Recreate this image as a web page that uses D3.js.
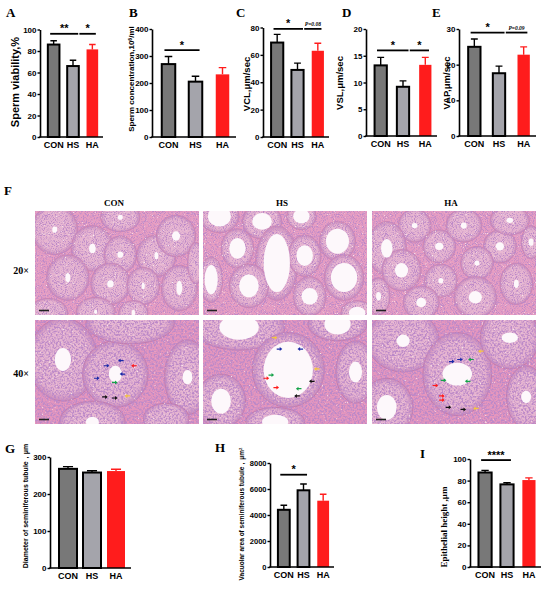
<!DOCTYPE html>
<html>
<head>
<meta charset="utf-8">
<script src="https://cdn.jsdelivr.net/npm/d3@7"></script>
<style>
body { margin: 0; background: #fff; }
svg { display: block; }
text { font-family: "Liberation Sans", Arial, sans-serif; font-weight: bold; }
.serif { font-family: "Liberation Serif", "Times New Roman", serif; }
</style>
</head>
<body>
<svg id="fig" width="550" height="590"></svg>
<script>
// groups and bar values (mean, sem)
const groups = ['CON', 'HS', 'HA'];
const viability = [86, 66, 81.5];
const viabilityErr = [3.5, 5.4, 4.5];
const concentration = [270, 205, 232];
const concentrationErr = [28, 20, 25];
const vcl = [69, 49, 63];
const vclErr = [6, 5, 5.5];
const vsl = [13.2, 9.2, 13.3];
const vslErr = [1.5, 1.1, 1.4];
const vap = [25, 17.6, 22.8];
const vapErr = [2.2, 2, 2.2];
const diameter = [268, 258, 262];
const diameterErr = [6, 5, 5];
const vacuolar = [4400, 5900, 5100];
const vacuolarErr = [350, 480, 500];
const epithelial = [87.5, 76.5, 80.5];
const epithelialErr = [2, 1.5, 2];

// tick values
const viabilityTicks = [0, 20, 40, 60, 80, 100];
const concentrationTicks = [0, 100, 200, 300, 400];
const vclTicks = [0, 20, 40, 60, 80];
const vslTicks = [0, 5, 10, 15, 20];
const vapTicks = [0, 10, 20, 30];
const diameterTicks = [0, 100, 200, 300];
const vacuolarTicks = [0, 2000, 4000, 6000, 8000];
const epithelialTicks = [0, 20, 40, 60, 80, 100];

// significance brackets: [from, to, label, level]
const viabilitySig = [[0, 1, '**', 96], [1, 2, '*', 96]];
const concentrationSig = [[0, 1, '*', 322]];
const vclSig = [[0, 1, '*', 79], [1, 2, 'P=0.08', 79]];
const vslSig = [[0, 1, '*', 16], [1, 2, '*', 16]];
const vapSig = [[0, 1, '*', 29], [1, 2, 'P=0.09', 29]];
const vacuolarSig = [[0, 1, '*', 7100]];
const epithelialSig = [[0, 1, '****', 99]];

// histology sketch: tubules [cx, cy, rx, ry, lumen rx, lumen ry] relative to the photo
const conTubules20 = [
	[0.12, 0.18, 0.14, 0.24, 0.015, 0.03], [0.35, 0.36, 0.13, 0.22, 0.02, 0.045],
	[0.52, 0.42, 0.1, 0.18, 0.018, 0.03], [0.52, 0.06, 0.12, 0.14, 0.015, 0.025],
	[0.74, 0.43, 0.12, 0.2, 0.012, 0.035], [0.86, 0.24, 0.12, 0.2, 0.025, 0.045],
	[0.2, 0.64, 0.13, 0.22, 0.015, 0.045], [0.46, 0.7, 0.12, 0.2, 0.02, 0.035],
	[0.66, 0.72, 0.1, 0.18, 0.01, 0.03], [0.88, 0.74, 0.11, 0.22, 0.018, 0.07],
	[0.37, 0.97, 0.12, 0.14, 0.01, 0.02], [0.08, 0.98, 0.12, 0.14, 0, 0],
	[0.6, 0.98, 0.09, 0.12, 0.01, 0.03], [0.98, 0.5, 0.05, 0.2, 0, 0]
];
const hsTubules20 = [
	[0.1, 0.05, 0.12, 0.16, 0.07, 0.1], [0.36, 0.1, 0.12, 0.17, 0.06, 0.08],
	[0.6, 0.05, 0.09, 0.13, 0.05, 0.07], [0.21, 0.36, 0.1, 0.19, 0.05, 0.1],
	[0.45, 0.5, 0.13, 0.36, 0.08, 0.28], [0.28, 0.72, 0.12, 0.21, 0.06, 0.11],
	[0.62, 0.43, 0.1, 0.2, 0.05, 0.1], [0.82, 0.29, 0.11, 0.19, 0.07, 0.12],
	[0.86, 0.64, 0.12, 0.22, 0.08, 0.14], [0.65, 0.82, 0.1, 0.19, 0.05, 0.08],
	[0.05, 0.66, 0.07, 0.22, 0.04, 0.14], [0.94, 0.98, 0.1, 0.12, 0.05, 0.06]
];
const haTubules20 = [
	[0.26, 0.14, 0.1, 0.16, 0.018, 0.025], [0.09, 0.36, 0.12, 0.26, 0.035, 0.09],
	[0.18, 0.57, 0.12, 0.2, 0.04, 0.07], [0.41, 0.34, 0.1, 0.16, 0.025, 0.035],
	[0.56, 0.14, 0.11, 0.16, 0.018, 0.03], [0.78, 0.34, 0.1, 0.16, 0.025, 0.04],
	[0.64, 0.5, 0.1, 0.16, 0.015, 0.025], [0.42, 0.67, 0.1, 0.16, 0.015, 0.025],
	[0.88, 0.7, 0.1, 0.2, 0.015, 0.04], [0.63, 0.83, 0.13, 0.2, 0.04, 0.06],
	[0.3, 0.88, 0.11, 0.16, 0.03, 0.045], [0.04, 0.82, 0.07, 0.18, 0.015, 0.04],
	[0.84, 0.09, 0.12, 0.14, 0.02, 0.025], [0.97, 0.3, 0.06, 0.16, 0.015, 0.035]
];
const conTubules40 = [
	[0.17, 0.38, 0.21, 0.4, 0.05, 0.11], [0.49, 0.52, 0.2, 0.32, 0.04, 0.08],
	[0.58, 0.03, 0.27, 0.2, 0, 0], [0.93, 0.55, 0.14, 0.36, 0.03, 0.07],
	[0.35, 0.98, 0.2, 0.2, 0.04, 0.05], [0.8, 0.95, 0.14, 0.15, 0, 0]
];
const hsTubules40 = [
	[0.22, 0.07, 0.28, 0.22, 0.12, 0.12], [0.52, 0.48, 0.22, 0.36, 0.15, 0.27],
	[0.11, 0.78, 0.15, 0.26, 0.06, 0.12], [0.93, 0.5, 0.12, 0.3, 0.04, 0.1],
	[0.82, 0.04, 0.18, 0.16, 0.08, 0.1], [0.44, 0.98, 0.18, 0.14, 0.08, 0.07]
];
const haTubules40 = [
	[0.19, 0.2, 0.22, 0.3, 0.04, 0.06], [0.52, 0.52, 0.21, 0.4, 0.09, 0.11],
	[0.84, 0.17, 0.18, 0.3, 0.05, 0.05], [0.09, 0.84, 0.16, 0.28, 0.06, 0.12],
	[0.94, 0.74, 0.12, 0.3, 0.03, 0.06]
];

// cell arrows on the 40x photos: [x, y, cell type, direction]
const conArrows = [
	[0.45, 0.44, 'blue', 1], [0.51, 0.39, 'blue', -1], [0.39, 0.56, 'blue', 1], [0.52, 0.52, 'blue', -1],
	[0.59, 0.44, 'red', -1], [0.5, 0.6, 'green', 1], [0.44, 0.74, 'black', 1], [0.5, 0.75, 'black', 1],
	[0.55, 0.73, 'yellow', -1]
];
const hsArrows = [
	[0.45, 0.17, 'yellow', 1], [0.48, 0.28, 'blue', 1], [0.58, 0.28, 'blue', -1], [0.68, 0.47, 'yellow', -1],
	[0.65, 0.59, 'black', -1], [0.43, 0.53, 'green', 1], [0.4, 0.56, 'red', 1], [0.46, 0.65, 'red', 1],
	[0.57, 0.66, 'green', -1], [0.56, 0.73, 'black', -1]
];
const haArrows = [
	[0.5, 0.4, 'blue', 1], [0.55, 0.38, 'blue', 1], [0.59, 0.38, 'green', -1], [0.65, 0.3, 'yellow', -1],
	[0.45, 0.58, 'green', 1], [0.57, 0.59, 'green', -1], [0.4, 0.63, 'red', 1], [0.44, 0.73, 'red', 1],
	[0.44, 0.77, 'red', 1], [0.48, 0.84, 'black', 1], [0.57, 0.86, 'black', 1], [0.62, 0.85, 'yellow', -1]
];

const barFills = ['#787878', '#a4a4ab', '#ff1c1c'];
const arrowColors = {blue: '#1c2aa8', red: '#ff1a1a', green: '#16a34a', black: '#111', yellow: '#f4c542'};

const svg = d3.select('#fig');
svg.append('rect').attr('width', 550).attr('height', 590).attr('fill', '#fff');

const _panelLetter = (letter, x, y) => {
	svg.append('text').attr('class', 'serif')
		.attr('x', x).attr('y', y)
		.attr('font-size', 13)
		.text(letter);
};

const _barPanel = (o) => {
	const g = svg.append('g');
	const x = d3.scaleBand()
		.domain(groups)
		.range([o.x0 + 3, o.x1])
		.paddingInner(o.padIn || 0.4)
		.paddingOuter(0.25);
	const y = d3.scaleLinear()
		.domain([0, o.ticks[o.ticks.length - 1]])
		.range([o.yBot, o.yTop]);
	const bw = x.bandwidth();

	// error bars first so the bar outline sits on top
	g.selectAll('.err')
		.data(o.values)
		.enter()
		.append('path')
			.attr('fill', 'none')
			.attr('stroke', (d, i) => i === 2 ? barFills[2] : '#000')
			.attr('stroke-width', 1.4)
			.attr('d', (d, i) => {
				const cx = x(groups[i]) + bw / 2;
				const top = y(d + o.errors[i]);
				return `M${cx},${y(d)}V${top}M${cx - bw * 0.28},${top}H${cx + bw * 0.28}`;
			});

	g.selectAll('.bar')
		.data(o.values)
		.enter()
		.append('rect')
			.attr('x', (d, i) => x(groups[i]))
			.attr('width', bw)
			.attr('y', d => y(d))
			.attr('height', d => o.yBot - y(d))
			.attr('fill', (d, i) => barFills[i])
			.attr('stroke', (d, i) => i === 2 ? 'none' : '#000')
			.attr('stroke-width', 2);

	const yAxis = g.append('g')
		.attr('transform', `translate(${o.x0}, 0)`)
		.call(d3.axisLeft(y).tickValues(o.ticks).tickFormat(d3.format('d'))
			.tickSize(2.5).tickSizeOuter(0).tickPadding(1));
	yAxis.select('.domain').attr('stroke-width', 1.6);
	yAxis.selectAll('line').attr('stroke-width', 1.4);
	yAxis.selectAll('text')
		.attr('font-size', o.tickFont || 8)
		.attr('font-family', '"Liberation Sans", Arial, sans-serif');

	g.append('line')
		.attr('x1', o.x0 - 0.8).attr('x2', o.x1)
		.attr('y1', o.yBot).attr('y2', o.yBot)
		.attr('stroke', '#000').attr('stroke-width', 1.6);

	g.selectAll('.cat')
		.data(groups)
		.enter()
		.append('text')
			.attr('x', d => x(d) + bw / 2)
			.attr('y', o.yBot + 11)
			.attr('text-anchor', 'middle')
			.attr('font-size', o.catFont || 9)
			.text(d => d);

	(o.sig || []).forEach(([a, b, label, level], k) => {
		const ly = y(level);
		const xa = k === 0 ? x(groups[a]) + bw * 0.2 : x(groups[a]) + bw * 1.05;
		const xb = k === 0 && o.sig.length > 1 ? x(groups[b]) + bw * 0.95 : x(groups[b]) + bw * 0.8;
		g.append('line')
			.attr('x1', xa).attr('x2', xb)
			.attr('y1', ly).attr('y2', ly)
			.attr('stroke', '#000').attr('stroke-width', 1.8);
		const isP = label.startsWith('P');
		g.append('text')
			.attr('class', isP ? 'serif' : null)
			.attr('x', (xa + xb) / 2)
			.attr('y', isP ? ly - 3 : ly - 1.5)
			.attr('text-anchor', 'middle')
			.attr('font-size', isP ? 5.5 : 11)
			.attr('font-style', isP ? 'italic' : null)
			.text(label);
	});

	const t = svg.append('text')
		.attr('class', o.titleSerif ? 'serif' : null)
		.attr('transform', `translate(${o.tx}, ${o.ty}) rotate(-90)`)
		.attr('text-anchor', 'middle')
		.attr('font-size', o.titleFont);
	o.title.forEach(part => {
		t.append('tspan')
			.attr('baseline-shift', part.sup ? '45%' : null)
			.attr('font-size', part.sup ? o.titleFont * 0.65 : null)
			.text(part.text);
	});
};

// top row
_panelLetter('A', 6, 17);
_barPanel({x0: 40, x1: 103, yTop: 29.5, yBot: 137, ticks: viabilityTicks, values: viability, errors: viabilityErr,
	sig: viabilitySig, title: [{text: 'Sperm viability,%'}], tx: 19, ty: 82, titleFont: 11});
_panelLetter('B', 129, 17);
_barPanel({x0: 152, x1: 236, yTop: 29, yBot: 137, ticks: concentrationTicks, values: concentration, errors: concentrationErr,
	sig: concentrationSig, title: [{text: 'Sperm concentration,10'}, {text: '6', sup: true}, {text: '/ml'}], tx: 134, ty: 79, titleFont: 8, padIn: 0.5});
_panelLetter('C', 236, 17);
_barPanel({x0: 263, x1: 329, yTop: 27.5, yBot: 137, ticks: vclTicks, values: vcl, errors: vclErr,
	sig: vclSig, title: [{text: 'VCL,μm/sec'}], tx: 250, ty: 84, titleFont: 9.5});
_panelLetter('D', 342, 17);
_barPanel({x0: 366, x1: 437, yTop: 29, yBot: 136, ticks: vslTicks, values: vsl, errors: vslErr,
	sig: vslSig, title: [{text: 'VSL,μm/sec'}], tx: 343, ty: 83, titleFont: 9.5, padIn: 0.45});
_panelLetter('E', 432, 17);
_barPanel({x0: 459, x1: 536, yTop: 29, yBot: 136, ticks: vapTicks, values: vap, errors: vapErr,
	sig: vapSig, title: [{text: 'VAP,μm/sec'}], tx: 450, ty: 83, titleFont: 9.5, padIn: 0.5});

// histology photos (panel F), sketched with a noise texture
const defs = svg.append('defs');
const _speckle = (id, freq, seed, nucBias, gapBias) => {
	const f = defs.append('filter').attr('id', id)
		.attr('x', 0).attr('y', 0).attr('width', 1).attr('height', 1);
	f.append('feTurbulence').attr('type', 'fractalNoise')
		.attr('baseFrequency', freq).attr('numOctaves', 2).attr('seed', seed).attr('result', 'noise');
	f.append('feColorMatrix').attr('in', 'noise').attr('type', 'matrix')
		.attr('values', `0 0 0 0 0.5  0 0 0 0 0.25  0 0 0 0 0.58  4 0 0 0 ${nucBias}`)
		.attr('result', 'nuclei');
	f.append('feColorMatrix').attr('in', 'noise').attr('type', 'matrix')
		.attr('values', `0 0 0 0 1  0 0 0 0 0.96  0 0 0 0 0.98  0 -4 0 0 ${gapBias}`)
		.attr('result', 'gaps');
	f.append('feComposite').attr('in', 'nuclei').attr('in2', 'SourceGraphic').attr('operator', 'in').attr('result', 'n2');
	f.append('feComposite').attr('in', 'gaps').attr('in2', 'SourceGraphic').attr('operator', 'in').attr('result', 'g2');
	const m = f.append('feMerge');
	m.append('feMergeNode').attr('in', 'SourceGraphic');
	m.append('feMergeNode').attr('in', 'g2');
	m.append('feMergeNode').attr('in', 'n2');
};
_speckle('speck20', 1.1, 3, -1.85, 1.3);
_speckle('speck40', 0.55, 7, -1.65, 1.3);

const grad = defs.append('radialGradient').attr('id', 'tubGrad');
grad.append('stop').attr('offset', '0%').attr('stop-color', '#e9bcd5');
grad.append('stop').attr('offset', '80%').attr('stop-color', '#e6b3cf');
grad.append('stop').attr('offset', '100%').attr('stop-color', '#cb8cba');

const _photo = (px, py, pw, ph, tubules, arrows, mag, id) => {
	const sx = d3.scaleLinear().range([px, px + pw]);
	const sy = d3.scaleLinear().range([py, py + ph]);
	defs.append('clipPath').attr('id', id)
		.append('rect').attr('x', px).attr('y', py).attr('width', pw).attr('height', ph);
	const g = svg.append('g').attr('clip-path', `url(#${id})`);
	const tissue = g.append('g').attr('filter', `url(#speck${mag})`);
	tissue.append('rect').attr('x', px).attr('y', py).attr('width', pw).attr('height', ph)
		.attr('fill', mag === 20 ? '#e79ec2' : '#e596bd');
	tissue.selectAll('.tub').data(tubules).enter().append('ellipse')
		.attr('cx', d => sx(d[0])).attr('cy', d => sy(d[1]))
		.attr('rx', d => d[2] * pw).attr('ry', d => d[3] * ph)
		.attr('fill', 'url(#tubGrad)')
		.attr('stroke', '#c27aab').attr('stroke-width', mag === 20 ? 0.6 : 1);
	g.selectAll('.lumen').data(tubules.filter(d => d[4] > 0)).enter().append('ellipse')
		.attr('cx', d => sx(d[0])).attr('cy', d => sy(d[1]))
		.attr('rx', d => d[4] * pw).attr('ry', d => d[5] * ph)
		.attr('fill', '#fdf8fb');
	g.selectAll('.arrow').data(arrows).enter().append('path')
		.attr('transform', d => `translate(${sx(d[0])}, ${sy(d[1])}) scale(${d[3]}, 1)`)
		.attr('d', 'M-5,-0.6H-2V-2L0.6,0L-2,2V0.6H-5Z')
		.attr('fill', d => arrowColors[d[2]]);
	g.append('line')
		.attr('x1', px + 4).attr('x2', px + 14)
		.attr('y1', py + ph - 4.5).attr('y2', py + ph - 4.5)
		.attr('stroke', '#222').attr('stroke-width', 1.6);
};

_panelLetter('F', 4, 195);
const photoCols = [35, 203, 372];
const photoW = 164;
const photoRows = [211, 320];
const photoH = 104;
[['CON', conTubules20, conTubules40, conArrows], ['HS', hsTubules20, hsTubules40, hsArrows], ['HA', haTubules20, haTubules40, haArrows]]
	.forEach(([name, t20, t40, arr], i) => {
		svg.append('text').attr('class', 'serif')
			.attr('x', photoCols[i] + photoW / 2 - 3).attr('y', 206)
			.attr('text-anchor', 'middle').attr('font-size', 9)
			.text(name);
		_photo(photoCols[i], photoRows[0], photoW, photoH, t20, [], 20, `clip20${i}`);
		_photo(photoCols[i], photoRows[1], photoW, photoH, t40, arr, 40, `clip40${i}`);
	});
svg.append('text').attr('class', 'serif').attr('x', 21).attr('y', 274)
	.attr('text-anchor', 'middle').attr('font-size', 10).text('20×');
svg.append('text').attr('class', 'serif').attr('x', 21).attr('y', 377)
	.attr('text-anchor', 'middle').attr('font-size', 10).text('40×');

// bottom row
_panelLetter('G', 5, 453);
_barPanel({x0: 50, x1: 131, yTop: 457, yBot: 568, ticks: diameterTicks, values: diameter, errors: diameterErr,
	title: [{text: 'Diameter of seminiferous tubule，μm'}], tx: 28, ty: 506, titleFont: 7, tickFont: 8, padIn: 0.25});
_panelLetter('H', 215, 452);
_barPanel({x0: 270, x1: 334, yTop: 463, yBot: 567, ticks: vacuolarTicks, values: vacuolar, errors: vacuolarErr,
	sig: vacuolarSig, title: [{text: 'Vacuolar area of seminiferous tubule，μm'}, {text: '2', sup: true}], tx: 244, ty: 514, titleFont: 6.5, tickFont: 7.5});
_panelLetter('I', 420, 458);
_barPanel({x0: 470, x1: 541, yTop: 459, yBot: 567, ticks: epithelialTicks, values: epithelial, errors: epithelialErr,
	sig: epithelialSig, title: [{text: 'Epithelial height ,μm'}], tx: 447, ty: 527, titleFont: 9, titleSerif: true, tickFont: 8, padIn: 0.4});
</script>
</body>
</html>
